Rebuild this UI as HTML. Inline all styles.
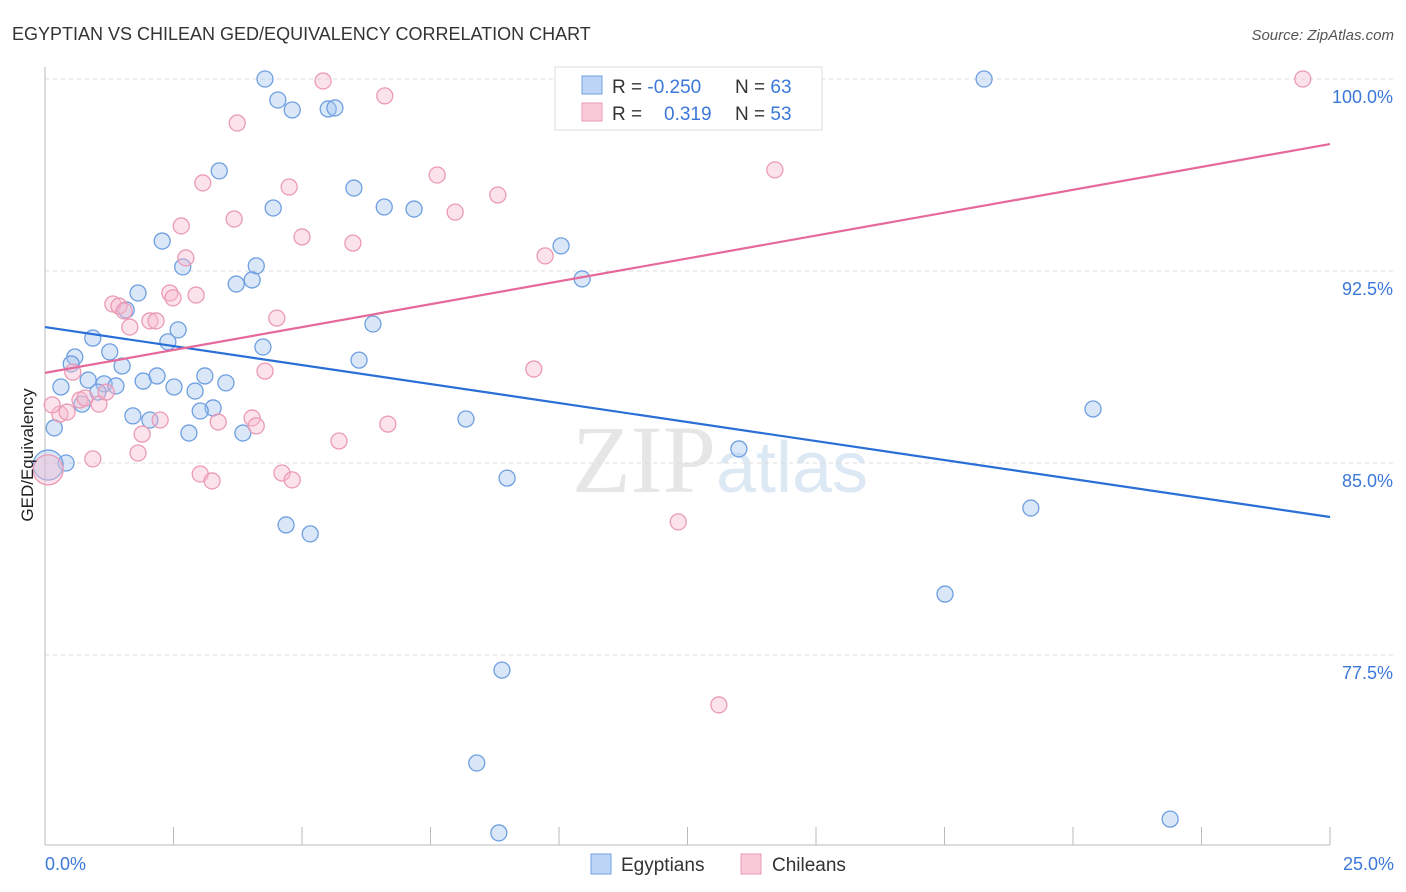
<!DOCTYPE html>
<html><head><meta charset="utf-8"><style>
body{margin:0;background:#fff;font-family:"Liberation Sans",sans-serif;}
svg{display:block}
</style></head><body>
<svg id="chart" width="1406" height="892">
<text x="12" y="40" font-size="18" fill="#333">EGYPTIAN VS CHILEAN GED/EQUIVALENCY CORRELATION CHART</text>
<text x="1394" y="40" font-size="15" fill="#555" font-style="italic" text-anchor="end">Source: ZipAtlas.com</text>
<text x="720" y="492" font-size="96" fill="#e6e6e6" text-anchor="middle" font-family="Liberation Serif, serif">ZIP<tspan fill="#dde8f5" font-family="Liberation Sans, sans-serif" font-size="72">atlas</tspan></text>
<g id="grid"></g><g id="axes"></g><g id="points"></g><g id="lines"></g>
<text x="33" y="455" font-size="17" fill="#222" text-anchor="middle" transform="rotate(-90 33 455)">GED/Equivalency</text>
<text x="45" y="870" font-size="18" fill="#3b78d8">0.0%</text>
<text x="1394" y="870" font-size="18" fill="#3b78d8" text-anchor="end">25.0%</text>
<g>
<rect x="555" y="67" width="267" height="63" fill="#fff" stroke="#ddd"/>
<rect x="582" y="76" width="20" height="18" fill="#bcd4f5" stroke="#6f9fe0"/>
<text x="612" y="93" font-size="19" fill="#333">R = <tspan fill="#3b78d8">-0.250</tspan></text>
<text x="735" y="93" font-size="19" fill="#333">N = <tspan fill="#3b78d8">63</tspan></text>
<rect x="582" y="103" width="20" height="18" fill="#fbcad8" stroke="#eb9ab5"/>
<text x="612" y="120" font-size="19" fill="#333">R = <tspan fill="#3b78d8" x="664">0.319</tspan></text>
<text x="735" y="120" font-size="19" fill="#333">N = <tspan fill="#3b78d8">53</tspan></text>
</g>
<g>
<rect x="591" y="854" width="20" height="20" fill="#bcd4f5" stroke="#6f9fe0"/>
<text x="621" y="871" font-size="19" fill="#333">Egyptians</text>
<rect x="741" y="854" width="20" height="20" fill="#fbcad8" stroke="#eb9ab5"/>
<text x="772" y="871" font-size="19" fill="#333">Chileans</text>
</g>
</svg>
<script>
const yTicks=[100,92.5,85,77.5];
const yTickLabels=["100.0%","92.5%","85.0%","77.5%"];
const xTicks=[0,2.5,5,7.5,10,12.5,15,17.5,20,22.5,25];
const blueX=[4.28,18.27,4.53,4.81,5.51,5.64,3.39,6.01,4.44,6.60,7.18,2.28,10.04,2.68,4.11,3.72,4.03,10.45,1.81,1.58,2.59,6.38,0.93,2.39,0.58,1.26,0.51,4.24,1.50,6.11,0.84,1.15,0.31,1.91,2.18,2.51,2.92,3.11,3.52,1.38,1.03,0.72,3.27,3.02,1.71,2.04,8.19,20.39,0.18,2.80,3.85,0.41,13.50,8.99,19.18,4.69,5.16,17.51,8.89,8.40,8.83,21.89,0.06];
const blueY=[100,100,99.18,98.79,98.83,98.87,96.41,95.74,94.96,95.00,94.92,93.67,93.48,92.66,92.70,91.99,92.15,92.19,91.64,90.98,90.20,90.43,89.88,89.73,89.14,89.34,88.87,89.53,88.79,89.02,88.24,88.09,87.97,88.20,88.40,87.97,87.81,88.40,88.13,88.01,87.77,87.30,87.15,87.03,86.84,86.68,86.72,87.11,86.37,86.17,86.17,85.00,85.55,84.41,83.24,82.58,82.23,79.88,76.91,73.28,70.55,71.09,84.92];
const pinkX=[5.41,14.07,24.47,6.61,3.74,14.20,7.63,3.07,4.75,8.81,7.98,2.65,3.68,5.00,5.99,9.73,2.74,2.43,2.94,2.49,1.32,1.44,1.54,2.04,2.16,1.65,4.51,9.51,4.28,0.54,0.68,1.05,1.19,4.03,4.11,3.37,6.67,2.24,0.29,1.89,5.72,1.81,0.93,3.02,3.25,4.61,4.81,12.32,13.11,0.06,0.14,0.43,0.78];
const pinkY=[99.92,100,100,99.34,98.28,96.45,96.25,95.94,95.78,95.47,94.80,94.26,94.53,93.83,93.59,93.09,93.01,91.64,91.56,91.45,91.21,91.13,90.94,90.55,90.55,90.31,90.66,88.67,88.59,88.55,87.46,87.30,87.77,86.76,86.45,86.60,86.52,86.68,86.91,86.13,85.86,85.39,85.16,84.57,84.30,84.61,84.34,82.70,75.55,84.73,87.27,86.99,87.54];
const blueTrend=[90.31,82.89];
const pinkTrend=[88.52,97.46];
const NS="http://www.w3.org/2000/svg";
const X0=45,X1=1330,Y100=79,PXPERPCT=25.6;
function sx(v){return X0+(v/25)*(X1-X0);}
function sy(v){return Y100+(100-v)*PXPERPCT;}
function mk(tag,attrs,parent){const e=document.createElementNS(NS,tag);for(const k in attrs)e.setAttribute(k,attrs[k]);parent.appendChild(e);return e;}
const grid=document.getElementById('grid'),axes=document.getElementById('axes'),pts=document.getElementById('points'),lines=document.getElementById('lines');
yTicks.forEach((t,i)=>{
 const l=mk('line',{x1:X0,x2:1394,y1:sy(t),y2:sy(t),stroke:'#ddd','stroke-dasharray':'4 4'},grid);
 
 
 const tx=mk('text',{x:1393,y:sy(t)+24,'font-size':18,fill:'#3b78d8','text-anchor':'end'},grid);
 tx.textContent=yTickLabels[i];
 
 
});
const yl=mk('line',{x1:X0,x2:X0,y1:67,y2:845,stroke:'#bbb'},axes);


const xl=mk('line',{x1:X0,x2:X1,y1:845,y2:845,stroke:'#bbb'},axes);


xTicks.forEach(t=>{
 const l=mk('line',{x1:sx(t),x2:sx(t),y1:827,y2:845,stroke:'#bbb'},axes);
 
 
});
function drawPts(xs,ys,fill,stroke,name){
 xs.forEach((x,i)=>{
  const big=(x<0.1);
  const c=mk('circle',{cx:sx(x),cy:sy(ys[i]),r:big?15:8,fill:fill,stroke:stroke,'stroke-width':1.3},pts);
  
  
 });
}
drawPts(blueX,blueY,'rgba(160,195,240,0.4)','#6f9fe0','egyptian-point');
drawPts(pinkX,pinkY,'rgba(247,185,205,0.4)','#eb9ab5','chilean-point');
const bl=mk('line',{x1:sx(0),y1:sy(blueTrend[0]),x2:sx(25),y2:sy(blueTrend[1]),stroke:'#2a6fd6','stroke-width':2.2},lines);


const pl=mk('line',{x1:sx(0),y1:sy(pinkTrend[0]),x2:sx(25),y2:sy(pinkTrend[1]),stroke:'#e5699a','stroke-width':2.2},lines);


</script>
</body></html>
